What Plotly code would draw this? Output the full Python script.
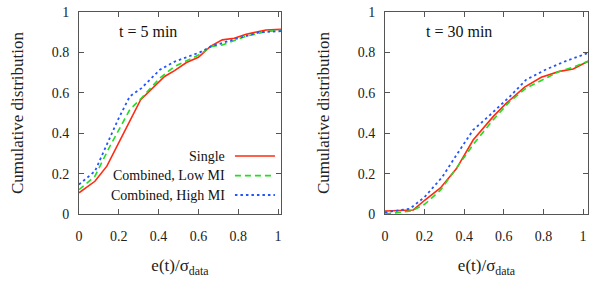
import plotly.graph_objects as go

# ---- data ----
# Left panel: t = 5 min
l_single_x = [0.0, 0.08, 0.14, 0.31, 0.43, 0.48, 0.54, 0.60, 0.66, 0.72, 0.78, 0.84, 0.94, 1.015]
l_single_y = [0.105, 0.162, 0.237, 0.566, 0.681, 0.71, 0.75, 0.776, 0.83, 0.862, 0.87, 0.89, 0.911, 0.914]

l_low_x = [0.0, 0.08, 0.155, 0.255, 0.314, 0.406, 0.48, 0.54, 0.607, 0.665, 0.72, 0.84, 0.94, 1.015]
l_low_y = [0.12, 0.187, 0.335, 0.516, 0.574, 0.673, 0.73, 0.76, 0.79, 0.83, 0.837, 0.88, 0.903, 0.91]

l_high_x = [0.0, 0.08, 0.196, 0.255, 0.314, 0.406, 0.482, 0.607, 0.665, 0.78, 0.91, 1.015]
l_high_y = [0.146, 0.212, 0.467, 0.582, 0.623, 0.714, 0.755, 0.80, 0.83, 0.865, 0.90, 0.905]

# Right panel: t = 30 min
r_single_x = [0.0, 0.143, 0.2, 0.28, 0.361, 0.445, 0.546, 0.613, 0.705, 0.789, 0.881, 0.95, 1.025]
r_single_y = [0.015, 0.02, 0.068, 0.129, 0.225, 0.366, 0.482, 0.549, 0.628, 0.677, 0.706, 0.718, 0.756]

r_low_x = [0.0, 0.134, 0.2, 0.28, 0.366, 0.45, 0.546, 0.63, 0.713, 0.797, 0.88, 0.948, 1.025]
r_low_y = [0.0, 0.015, 0.048, 0.118, 0.234, 0.35, 0.466, 0.557, 0.623, 0.665, 0.706, 0.726, 0.756]

r_high_x = [0.0, 0.126, 0.2, 0.29, 0.366, 0.445, 0.53, 0.63, 0.713, 0.81, 0.91, 1.025]
r_high_y = [0.008, 0.026, 0.084, 0.184, 0.30, 0.416, 0.49, 0.581, 0.665, 0.714, 0.756, 0.797]

series_names = ["Single", "Combined, Low MI", "Combined, High MI"]
panel_titles = ["t = 5 min", "t = 30 min"]
tick_vals = [0, 0.2, 0.4, 0.6, 0.8, 1]
tick_text = ["0", "0.2", "0.4", "0.6", "0.8", "1"]

# ---- styles ----
RED = "#ff2a10"
GREEN = "#22dd22"
BLUE = "#2255ff"
styles = [
    dict(color=RED, width=1.6, dash="solid"),
    dict(color=GREEN, width=1.6, dash="6px,4px"),
    dict(color=BLUE, width=1.8, dash="2.5px,3px"),
]
FONT = "Times New Roman, Liberation Serif, serif"

fig = go.Figure()

left = [(l_single_x, l_single_y), (l_low_x, l_low_y), (l_high_x, l_high_y)]
right = [(r_single_x, r_single_y), (r_low_x, r_low_y), (r_high_x, r_high_y)]

for i, (x, y) in enumerate(left):
    fig.add_trace(go.Scatter(x=x, y=y, mode="lines", line=styles[i], name=series_names[i],
                             xaxis="x", yaxis="y", showlegend=False, hoverinfo="skip"))
for i, (x, y) in enumerate(right):
    fig.add_trace(go.Scatter(x=x, y=y, mode="lines", line=styles[i], name=series_names[i],
                             xaxis="x2", yaxis="y2", showlegend=False, hoverinfo="skip"))

axis_common = dict(
    showgrid=False, zeroline=False, showline=True, linecolor="#555", linewidth=1,
    ticks="inside", ticklen=5, tickcolor="#555", tickwidth=1, mirror="ticks",
    tickfont=dict(family=FONT, size=14, color="#222"),
    tickvals=tick_vals, ticktext=tick_text, automargin=False,
)
title_font = dict(family=FONT, size=17, color="#222")

fig.update_layout(
    template="none",
    width=598, height=292,
    margin=dict(l=0, r=0, t=0, b=0, pad=0),
    paper_bgcolor="white", plot_bgcolor="white",
    font=dict(family=FONT),
    xaxis=dict(domain=[79/598, 281/598], range=[0, 1.015],
               anchor="y", title=dict(text="e(t)/σ<sub>data</sub>", font=title_font, standoff=16),
               **axis_common),
    yaxis=dict(domain=[1-214/292, 1-12/292], range=[0, 1],
               anchor="x", title=dict(text="Cumulative distribution", font=title_font, standoff=23),
               **axis_common),
    xaxis2=dict(domain=[385/598, 588/598], range=[0, 1.025],
                anchor="y2", title=dict(text="e(t)/σ<sub>data</sub>", font=title_font, standoff=16),
                **axis_common),
    yaxis2=dict(domain=[1-214/292, 1-12/292], range=[0, 1],
                anchor="x2", title=dict(text="Cumulative distribution", font=title_font, standoff=23),
                **axis_common),
    showlegend=False,
)
fig.update_xaxes(ticklabelstandoff=9)
fig.update_yaxes(ticklabelstandoff=6)

# panel labels
for ax, txt in zip(["x", "x2"], panel_titles):
    fig.add_annotation(text=txt, xref=f"{ax} domain", yref=f"{'y' if ax == 'x' else 'y2'} domain",
                       x=0.19, y=0.905, xanchor="left", yanchor="middle", showarrow=False,
                       font=dict(family=FONT, size=16, color="#111"))

# legend drawn gnuplot-style (text then sample) inside left panel
leg_y = [0.287, 0.19, 0.094]
for i, name in enumerate(series_names):
    fig.add_annotation(text=name, xref="x domain", yref="y domain", x=0.735, y=leg_y[i],
                       xanchor="right", yanchor="middle", showarrow=False,
                       font=dict(family=FONT, size=14, color="#111"))
    fig.add_shape(type="line", xref="x domain", yref="y domain",
                  x0=0.772, x1=0.97, y0=leg_y[i], y1=leg_y[i], line=styles[i])

fig.write_html("out.html", config={"displayModeBar": False},
               post_script="document.body.style.margin='0';")
